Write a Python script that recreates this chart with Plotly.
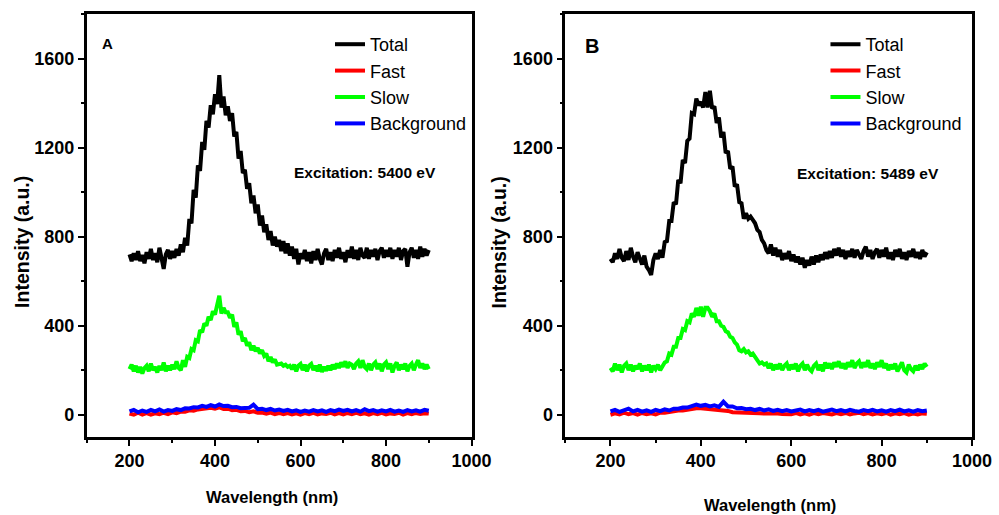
import plotly.graph_objects as go

# Sampling grids (nm)
wl_fine = list(range(200, 905, 5))
wl_coarse = list(range(200, 910, 10))

# ---- Panel A: excitation 5400 eV ----
total_a = [720, 690, 725, 695, 735, 690, 718, 680, 730, 700,
           745, 695, 725, 685, 750, 700, 655, 720, 740, 700,
           735, 705, 745, 715, 765, 730, 795, 760, 880, 860,
           1010, 975, 1120, 1095, 1225, 1190, 1320, 1290, 1390, 1350,
           1440, 1395, 1525, 1380, 1430, 1345, 1385, 1320, 1355, 1250,
           1270, 1150, 1185, 1085, 1100, 1015, 1040, 950, 985, 905,
           945, 850, 895, 820, 855, 785, 825, 760, 800, 755,
           785, 735, 780, 725, 770, 715, 755, 700, 745, 675,
           725, 700, 740, 690, 730, 680, 735, 695, 745, 700,
           675, 725, 745, 695, 730, 690, 740, 705, 750, 700,
           730, 685, 740, 705, 755, 700, 740, 695, 750, 715,
           705, 750, 700, 740, 710, 745, 695, 735, 750, 705,
           740, 710, 750, 700, 740, 710, 750, 695, 735, 745,
           665, 730, 750, 705, 740, 700, 755, 710, 745, 715,
           740]
slow_a = [205, 225, 195, 220, 190, 215, 185, 210, 220, 195,
          230, 200, 215, 190, 220, 200, 235, 195, 220, 200,
          225, 205, 240, 210, 200, 245, 215, 260, 255, 295,
          290, 335, 330, 380, 370, 410, 400, 440, 425, 465,
          450, 495, 535, 455, 480, 460, 460, 435, 450, 395,
          415, 360, 375, 330, 345, 310, 325, 290, 310, 285,
          300, 275, 290, 265, 275, 240, 260, 235, 248, 225,
          230, 230, 220, 225, 215, 220, 205, 225, 195, 220,
          228, 200, 225, 195, 220, 228, 200, 220, 195, 225,
          192, 215, 198, 220, 200, 225, 205, 230, 210, 235,
          215, 240, 210, 230, 225, 205, 230, 240, 210, 245,
          215, 205, 230, 200, 225, 235, 205, 230, 195, 225,
          235, 205, 230, 190, 220, 235, 200, 225, 205, 230,
          195, 220, 230, 200, 225, 245, 210, 230, 205, 225,
          205]
fast_a = [5, 0, 9, 1, 7, 0, 6, 2, 9, 3,
          11, 7, 14, 13, 20, 18, 24, 26, 27, 31,
          27, 33, 26, 27, 20, 22, 16, 17, 11, 15,
          9, 10, 5, 10, 3, 8, 2, 7, 1, 6,
          0, 7, 2, 8, 1, 6, 3, 9, 2, 7,
          1, 8, 3, 9, 2, 6, 0, 7, 2, 8,
          1, 6, 3, 9, 1, 7, 2, 8, 3, 7,
          5]
bg_a = [15, 22, 11, 19, 13, 22, 15, 24, 14, 21,
        17, 25, 21, 29, 28, 34, 33, 40, 35, 43,
        37, 46, 39, 40, 34, 35, 29, 30, 31, 45,
        25, 27, 21, 26, 19, 23, 17, 22, 15, 20,
        13, 19, 14, 21, 15, 20, 13, 21, 16, 23,
        17, 22, 15, 21, 14, 25, 16, 21, 14, 20,
        15, 22, 14, 19, 13, 21, 15, 20, 14, 22,
        18]

# ---- Panel B: excitation 5489 eV ----
total_b = [700, 685, 725, 700, 745, 705, 690, 735, 695, 750,
           710, 685, 730, 695, 675, 715, 665, 650, 628, 695,
           725, 700, 740, 705, 775, 780, 870, 870, 955, 945,
           1055, 1040, 1145, 1130, 1230, 1240, 1355, 1350, 1420, 1390,
           1405, 1380, 1450, 1380, 1455, 1375, 1385, 1310, 1335, 1245,
           1270, 1175, 1185, 1105, 1115, 1025, 1035, 955, 950, 880,
           905, 880, 890, 875, 860, 830, 820, 785, 770, 740,
           725, 765, 715, 750, 710, 740, 695, 725, 700, 735,
           690, 720, 685, 710, 675, 705, 660, 695, 670, 710,
           675, 715, 685, 720, 695, 730, 700, 735, 705, 745,
           715, 750, 710, 740, 700, 735, 710, 745, 705, 740,
           715, 700, 735, 755, 710, 740, 700, 730, 745, 705,
           740, 710, 750, 700, 730, 695, 740, 710, 745, 700,
           730, 695, 735, 710, 745, 705, 730, 700, 740, 710,
           730]
slow_b = [210, 195, 230, 200, 225, 190, 220, 230, 200, 225,
          195, 220, 205, 230, 195, 220, 200, 225, 190, 220,
          205, 225, 200, 220, 235, 240, 275, 270, 305, 305,
          345, 345, 385, 380, 420, 415, 455, 440, 480, 445,
          485, 440, 480, 480, 465, 440, 455, 420, 420, 400,
          395, 375, 370, 350, 345, 325, 315, 290, 285, 295,
          280, 285, 270, 275, 260, 240, 230, 235, 225, 230,
          210, 230, 200, 225, 205, 230, 200, 220, 230, 200,
          225, 205, 230, 195, 220, 230, 200, 225, 205, 195,
          220, 230, 200, 225, 195, 235, 210, 230, 205, 235,
          215, 240, 210, 230, 205, 235, 215, 245, 210, 230,
          240, 210, 235, 215, 245, 210, 230, 205, 235, 215,
          245, 210, 230, 200, 225, 205, 230, 195, 220, 235,
          200, 190, 225, 205, 195, 220, 200, 225, 205, 230,
          215]
fast_b = [0, 6, 1, 9, 2, 7, 0, 8, 2, 6,
          1, 9, 9, 13, 14, 19, 19, 23, 24, 29,
          29, 27, 29, 23, 23, 19, 17, 11, 11, 11,
          9, 9, 7, 7, 5, 6, 4, 5, 3, 4,
          2, 8, 1, 6, 0, 7, 2, 8, 3, 1,
          7, 2, 8, 1, 6, 9, 2, 7, 1, 6,
          2, 8, 0, 6, 2, 7, 0, 5, 1, 6,
          4]
bg_b = [15, 22, 13, 20, 27, 15, 22, 14, 20, 13,
        22, 16, 24, 19, 27, 27, 32, 32, 40, 46,
        40, 44, 37, 42, 35, 58, 37, 37, 29, 30,
        25, 27, 21, 26, 19, 24, 17, 22, 16, 21,
        15, 20, 23, 15, 21, 16, 22, 14, 20, 23,
        16, 21, 15, 22, 17, 14, 21, 16, 22, 15,
        20, 14, 21, 16, 23, 15, 20, 14, 21, 16,
        19]

series_names = ["Total", "Fast", "Slow", "Background"]
series_colors = ["#000000", "#ff0000", "#00ff00", "#0000ff"]
panel_labels = ["A", "B"]
excitations = ["Excitation: 5400 eV", "Excitation: 5489 eV"]
x_tickvals = [200, 400, 600, 800, 1000]
y_tickvals = [0, 400, 800, 1200, 1600]

SANS = "Liberation Sans, Arial, sans-serif"

# usable page width / height in px, used to place items in paper coordinates
PAGE_W = 982.0
PAGE_H = 515.0


def fx(px):
    return px / PAGE_W


def fy(py):
    return 1 - py / PAGE_H


panels = [
    dict(total=total_a, fast=fast_a, slow=slow_a, bg=bg_a),
    dict(total=total_b, fast=fast_b, slow=slow_b, bg=bg_b),
]

fig = go.Figure()
for i, p in enumerate(panels):
    xa = "x" if i == 0 else "x2"
    ya = "y" if i == 0 else "y2"
    leg = "legend" if i == 0 else "legend2"
    order = [("Total", wl_fine, p["total"]), ("Fast", wl_coarse, p["fast"]),
             ("Slow", wl_fine, p["slow"]), ("Background", wl_coarse, p["bg"])]
    for name, xs, ys in order:
        assert len(xs) == len(ys), (name, i, len(xs), len(ys))
        c = series_colors[series_names.index(name)]
        fig.add_trace(go.Scatter(
            x=xs, y=ys, mode="lines", name=name, legend=leg,
            line=dict(color=c, width=4),
            xaxis=xa, yaxis=ya,
        ))

axis_common = dict(
    showline=True, linecolor="black", linewidth=2.5, mirror=True,
    ticks="outside", ticklen=6, tickwidth=2, tickcolor="black",
    showgrid=False, zeroline=False,
    tickfont=dict(family=SANS, size=18, color="black", weight="bold"),
)
x_minor = dict(ticks="outside", ticklen=3, tickwidth=2, tickcolor="black", dtick=100, tick0=100)
y_minor = dict(ticks="outside", ticklen=3, tickwidth=2, tickcolor="black", dtick=200, tick0=0)

domains_x = [[fx(87), fx(473)], [fx(567), fx(975)]]
dom_y = [fy(437), fy(14)]
legend_common = dict(xanchor="left", yanchor="top", bgcolor="rgba(0,0,0,0)", borderwidth=0,
                     tracegroupgap=0, font=dict(family=SANS, size=18, color="black"))

fig.update_layout(
    width=999, height=515,
    margin=dict(l=0, r=0, t=0, b=0),
    paper_bgcolor="white", plot_bgcolor="white",
    xaxis=dict(domain=domains_x[0], range=[100, 1000], tickvals=x_tickvals, anchor="y",
               minor=x_minor, **axis_common),
    yaxis=dict(domain=dom_y, range=[-100, 1800], tickvals=y_tickvals, anchor="x",
               minor=y_minor, **axis_common),
    xaxis2=dict(domain=domains_x[1], range=[100, 1000], tickvals=x_tickvals, anchor="y2",
                minor=x_minor, **axis_common),
    yaxis2=dict(domain=dom_y, range=[-100, 1800], tickvals=y_tickvals, anchor="x2",
                minor=y_minor, **axis_common),
    legend=dict(x=fx(331), y=fy(26), **legend_common),
    legend2=dict(x=fx(828), y=fy(26), **legend_common),
    showlegend=True,
)


def label(text, cx, cy, size, angle=0):
    return dict(text="<b>" + text + "</b>", x=fx(cx), y=fy(cy),
                xref="paper", yref="paper", xanchor="center", yanchor="middle",
                showarrow=False, textangle=angle,
                font=dict(family=SANS, size=size, color="black"))


annotations = [
    label(panel_labels[0], 108, 44, 15),
    label(panel_labels[1], 594, 46, 20),
    label(excitations[0], 366, 172, 15.5),
    label(excitations[1], 871, 173, 15.5),
    label("Wavelength (nm)", 273, 497, 16.5),
    label("Wavelength (nm)", 772, 505, 16.5),
    label("Intensity (a.u.)", 22, 242, 19.5, -90),
    label("Intensity (a.u.)", 501, 242, 19.5, -90),
]
fig.update_layout(annotations=annotations)

fig.write_html("out.html")
